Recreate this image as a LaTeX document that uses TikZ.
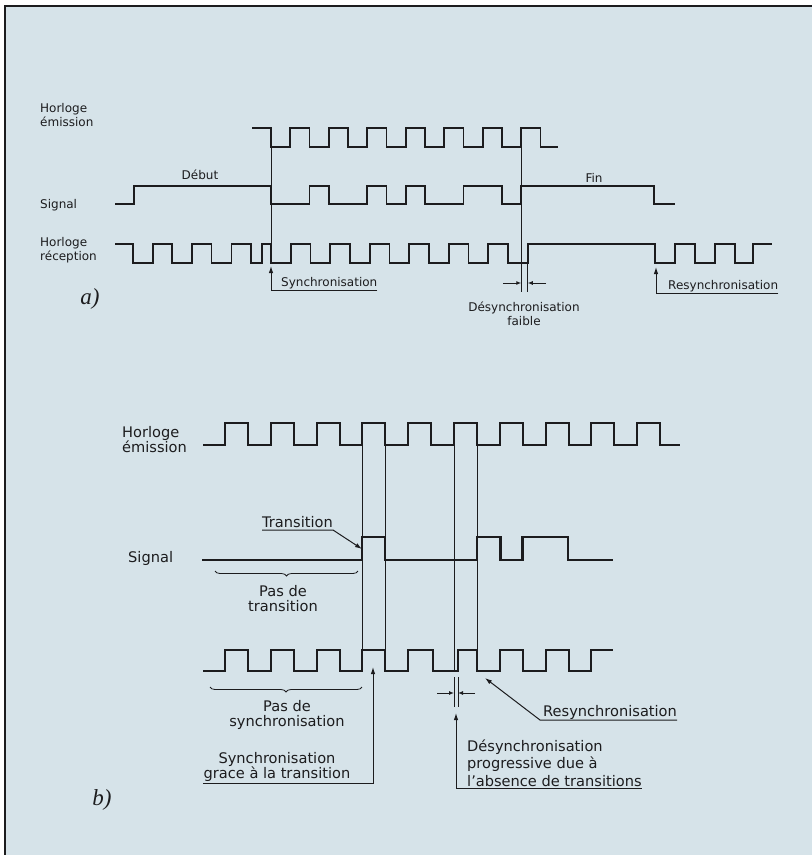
\documentclass[tikz,border=0pt]{standalone}
\usepackage{fontspec}
\newfontfamily\letterfont{DejaVu Sans}
\newfontfamily\tagfont{Liberation Serif}
\usetikzlibrary{arrows.meta,decorations.pathreplacing}
\definecolor{paper}{RGB}{214,227,233}
\definecolor{ink}{RGB}{28,28,30}
\tikzset{
  wave/.style={ink,line width=1.7pt,line join=miter},
  waveb/.style={wave,line width=2.1pt},
  guide/.style={ink,line width=0.9pt},
  pointer/.style={ink,line width=1pt,-{Latex[length=7pt,width=4.5pt]}},
  tick/.style={ink,line width=1pt,-{Latex[length=5pt,width=4pt]}},
  txta/.style={inner sep=0pt,text=ink,font=\letterfont\fontsize{12}{14}\selectfont},
  txtb/.style={inner sep=0pt,text=ink,font=\letterfont\fontsize{14.6}{15}\selectfont},
  tag/.style={inner sep=0pt,text=ink,font=\tagfont\itshape\fontsize{23}{24}\selectfont},
  brace/.style={ink,line width=0.8pt,decorate,decoration={brace,mirror,amplitude=5pt}},
}
\begin{document}
\begin{tikzpicture}[x=1pt,y=-1pt]
\useasboundingbox (0,0) rectangle (812,855);
\fill[white] (0,0) rectangle (812,855);
\fill[paper] (5,6) rectangle (812,855);
\draw[ink,line width=2pt] (5,855) -- (5,6) -- (812,6);

% a)
\node[txta,anchor=west,align=left] (emA) at (40,115) {Horloge\\émission};
\node[txta,anchor=west] (sigA) at (40,205) {Signal};
\node[txta,anchor=west,align=left] (recA) at (40,250) {Horloge\\réception};
\node[txta] (debut) at (200,175) {Début};
\node[txta] (fin) at (594,178) {Fin};

\draw[wave] (252,128) foreach \k in {0,...,6} {-| ({271+38.5*\k},147) -| ({290.25+38.5*\k},128)} -| (540.5,147) -- (558,147);
\draw[wave] (115,204) -| (134,186) -| (271,204) -| (309.5,186) -| (328.75,204) -| (367.25,186) -| (386.5,204) -| (405.75,186) -| (425,204) -| (463.5,186) -| (502,204) -| (521.25,186) -| (654,204) -- (675,204);
\draw[wave] (115,244) foreach \k in {0,...,2} {-| ({133+39.3*\k},263) -| ({153+39.3*\k},244)} -| (251,263) -| (262,244) -| (271,263) foreach \k in {0,...,5} {-| ({290.75+39.5*\k},244) -| ({310.5+39.5*\k},263)} -| (527.75,244) -| (655,263) -| (675,244) -| (695,263) -| (715,244) -| (735,263) -| (753,244) -- (772,244);

\coordinate (syncAtop) at (271,128);
\coordinate (syncAbot) at (271,263);
\coordinate (syncAtip) at (271,266);
\coordinate (desAtop) at (521.25,128);
\coordinate (desAl) at (521.25,292);
\coordinate (desArtop) at (527.75,263);
\coordinate (desAr) at (527.75,292);
\coordinate (resAtip) at (656,267);
\draw[guide] (syncAtop) -- (syncAbot);
\draw[guide] (desAtop) -- (desAl);
\draw[guide] (desArtop) -- (desAr);
\draw[tick] (503,283) -- (desAl |- 0,283);
\draw[tick] (546,283) -- (desAr |- 0,283);

\node[txta,anchor=base west] (syncA) at (281,286) {Synchronisation};
\draw[pointer] ([yshift=-4pt]syncA.base east) -| (syncAtip);
\node[txta,anchor=base west] (resyncA) at (668,289) {Resynchronisation};
\draw[pointer] ([yshift=-4pt]resyncA.base east) -| (resAtip);
\node[txta,align=center] (desyncA) at (524,314) {Désynchronisation\\faible};
\node[tag] (tagA) at (90,299) {a)};

% b)
\node[txtb,anchor=west,align=left] (emB) at (122,440) {Horloge\\émission};
\node[txtb,anchor=west] (sigB) at (128,558) {Signal};

\draw[waveb] (203,445) foreach \k in {0,...,9} {-| ({225+45.8*\k},423) -| ({248+45.8*\k},445)} -- (680,445);
\draw[waveb] (202,560) -| (362.4,537) -| (385.4,560) -| (477,537) -| (500.5,560) -| (522.5,537) -| (568.3,560) -- (613,560);
\draw[waveb] (203,671) foreach \k in {0,...,3} {-| ({225+45.8*\k},650) -| ({248+45.8*\k},671)} -| (408.2,650) -| (433,671) -| (458,650) -| (477,671) foreach \k in {6,7} {-| ({225+45.8*\k},650) -| ({248+45.8*\k},671)} -| (591.4,650) -- (613,650);

\coordinate (upA) at (362.4,445);
\coordinate (upB) at (385.4,445);
\coordinate (upC) at (454,445);
\coordinate (upD) at (477,445);
\draw[guide] (upA) -- (upA |- 0,671);
\draw[guide] (upB) -- (upB |- 0,671);
\draw[guide] (upC) -- (upC |- 0,671);
\draw[guide] (upD) -- (upD |- 0,650);
\draw[guide] (454,677) -- (454,707);
\draw[guide] (458,677) -- (458,707);
\draw[tick] (437,693) -- (454,693);
\draw[tick] (475,693) -- (458,693);

\draw[brace] (215,571) -- (358,571);
\node[txtb,align=center] (noTrans) at (283,599) {Pas de\\transition};
\draw[brace] (210,687) -- (362,687);
\node[txtb,align=center] (noSync) at (287,715) {Pas de\\synchronisation};

\coordinate (transTip) at (362,549);
\node[txtb,anchor=base west] (trans) at (262,527) {Transition};
\draw[pointer] ([yshift=-3pt]trans.base west) -- ([yshift=-3pt]trans.base east) -- (transTip);

\coordinate (syncBtip) at (373,667);
\node[txtb,align=center] (syncB) at (277,767) {Synchronisation\\grace à la transition};
\draw[pointer] ([yshift=-2pt]syncB.south west) -| (syncBtip);

\coordinate (resBtip) at (485,678);
\node[txtb,anchor=base west] (resyncB) at (543,716) {Resynchronisation};
\draw[pointer] ([yshift=-4pt]resyncB.base east) -- ([xshift=-3pt,yshift=-4pt]resyncB.base west) -- (resBtip);

\coordinate (desBtip) at (456,713);
\node[txtb,align=left,anchor=west,font=\letterfont\fontsize{14.6}{17.5}\selectfont] (desyncB) at (467,763) {Désynchronisation\\progressive due à\\l’absence de transitions};
\draw[pointer] ([yshift=-2pt]desyncB.south east) -| (desBtip);
\node[tag] (tagB) at (102,800) {b)};
\end{tikzpicture}
\end{document}
